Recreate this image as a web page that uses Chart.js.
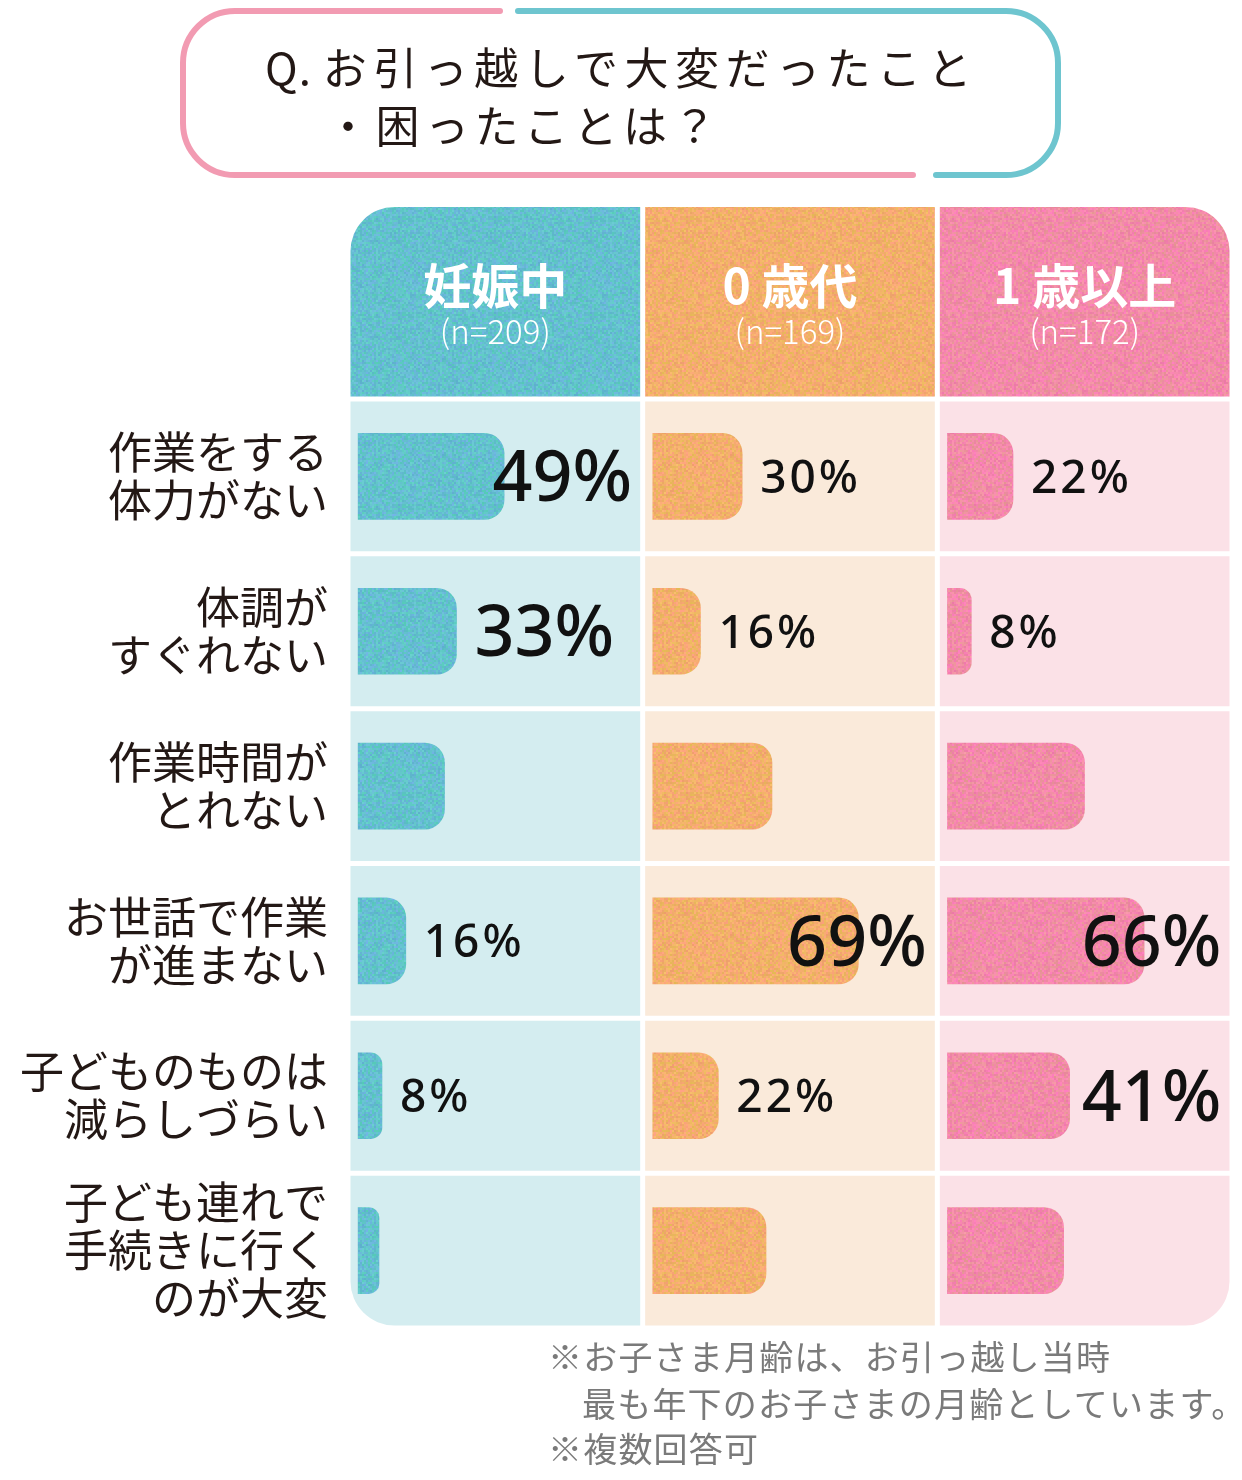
<!DOCTYPE html>
<html lang="ja">
<head>
<meta charset="utf-8">
<script src="https://cdn.jsdelivr.net/npm/chart.js@4.4.1/dist/chart.umd.min.js"></script>
<style>
  html, body { margin: 0; padding: 0; background: #fff; }
  body { width: 1242px; height: 1480px; position: relative; overflow: hidden; font-family: "Noto Sans CJK JP", "Noto Sans", sans-serif; }
  #c { position: absolute; left: 0; top: 0; }
  #frame { position: absolute; left: 0; top: 0; }
  .tline { position: absolute; font-size: 44px; line-height: 1; color: #231815; letter-spacing: 5.5px; white-space: nowrap; }
  .tline.first { letter-spacing: 6.5px; }
  .tline .q { letter-spacing: 1px; }
  .note { position: absolute; font-size: 34px; line-height: 1; color: #7a7a7a; letter-spacing: 1.2px; white-space: nowrap; }
</style>
</head>
<body>
<canvas id="c" width="1242" height="1480"></canvas>

<svg id="frame" width="1242" height="190">
  <path d="M500 11 L235 11 A52 52 0 0 0 183 63 L183 123 A52 52 0 0 0 235 175 L913 175"
        fill="none" stroke="#f29bb2" stroke-width="6" stroke-linecap="round"/>
  <path d="M518 11 L1006 11 A52 52 0 0 1 1058 63 L1058 123 A52 52 0 0 1 1006 175 L936 175"
        fill="none" stroke="#6ec5cf" stroke-width="6" stroke-linecap="round"/>
</svg>
<div class="tline first" style="left:265px; top:44px;"><span class="q">Q. </span>お引っ越しで大変だったこと</div>
<div class="tline" style="left:326px; top:102px;">・困ったことは？</div>

<div class="note" style="left:548px; top:1339px;">※お子さま月齢は、お引っ越し当時</div>
<div class="note" style="left:582px; top:1386px;">最も年下のお子さまの月齢としています。</div>
<div class="note" style="left:548px; top:1431px;">※複数回答可</div>

<script>
/* データ */
const groups = ["妊娠中", "0 歳代", "1 歳以上"];
const sampleSizes = ["(n=209)", "(n=169)", "(n=172)"];
const reasons = [
  ["作業をする", "体力がない"],
  ["体調が", "すぐれない"],
  ["作業時間が", "とれない"],
  ["お世話で作業", "が進まない"],
  ["子どものものは", "減らしづらい"],
  ["子ども連れで", "手続きに行く", "のが大変"],
];
const pregnant = [49, 33, 29, 16, 8, 7];
const age0 = [30, 16, 40, 69, 22, 38];
const age1 = [22, 8, 46, 66, 41, 39];
const labeledRows = [true, true, false, true, true, false];

/* 色 */
const baseRGB = [[99, 192, 206], [243, 174, 108], [242, 138, 168]];
const cellColors = ["#d4edf0", "#faeada", "#fbe1e7"];
const xIds = ["x0", "x1", "x2"];

// ざらざらした質感のパターン（決定的なハッシュで作る）
function hash(x, y) {
  const s = Math.sin(x * 12.9898 + y * 78.233) * 43758.5453;
  return s - Math.floor(s);
}
function grainPattern(ctx, rgb) {
  const size = 96;
  const tile = document.createElement("canvas");
  tile.width = tile.height = size;
  const g = tile.getContext("2d");
  const img = g.createImageData(size, size);
  for (let y = 0; y < size; y++) {
    for (let x = 0; x < size; x++) {
      const bx = x >> 1, by = y >> 1;
      const a = hash(bx, by) - 0.5;
      const b = hash(bx + 31.7, by + 17.3) - 0.5;
      const i = (y * size + x) * 4;
      img.data[i] = Math.max(0, Math.min(255, rgb[0] + a * 22 - b * 10));
      img.data[i + 1] = Math.max(0, Math.min(255, rgb[1] + b * 30 + a * 6));
      img.data[i + 2] = Math.max(0, Math.min(255, rgb[2] + (a - b) * 26));
      img.data[i + 3] = 255;
    }
  }
  g.putImageData(img, 0, 0);
  return ctx.createPattern(tile, "repeat");
}

const canvas = document.getElementById("c");
const patterns = baseRGB.map((rgb) => grainPattern(canvas.getContext("2d"), rgb));

/* ヘッダーとセル背景 */
const cellsPlugin = {
  id: "cells",
  beforeDraw(chart) {
    const { ctx, chartArea, scales } = chart;
    const n = reasons.length;
    const rowH = (chartArea.bottom - chartArea.top) / n;
    xIds.forEach((id, c) => {
      const s = scales[id];
      const l = s.left + 2.5, r = s.right - 2.5;
      ctx.save();
      ctx.fillStyle = patterns[c];
      ctx.beginPath();
      ctx.roundRect(l, 207, r - l, chartArea.top - 2.5 - 207, [c === 0 ? 44 : 0, c === 2 ? 44 : 0, 0, 0]);
      ctx.fill();

      ctx.fillStyle = cellColors[c];
      for (let i = 0; i < n; i++) {
        const t = chartArea.top + i * rowH + 2.5;
        const b = chartArea.top + (i + 1) * rowH - 2.5;
        const last = i === n - 1;
        ctx.beginPath();
        ctx.roundRect(l, t, r - l, b - t, [0, 0, last && c === 2 ? 44 : 0, last && c === 0 ? 44 : 0]);
        ctx.fill();
      }

      ctx.fillStyle = "#fff";
      ctx.textAlign = "center";
      ctx.textBaseline = "middle";
      ctx.font = "700 48px 'Noto Sans CJK JP'";
      ctx.fillText(groups[c], (l + r) / 2, 286);
      ctx.font = "300 33px 'Noto Sans CJK JP'";
      ctx.fillText(sampleSizes[c], (l + r) / 2, 331);
      ctx.restore();
    });
  },
};

/* 数値ラベル */
const valueLabels = {
  id: "valueLabels",
  afterDatasetsDraw(chart) {
    const { ctx } = chart;
    chart.data.datasets.forEach((ds, c) => {
      const meta = chart.getDatasetMeta(c);
      const s = chart.scales[ds.xAxisID];
      const colRight = s.right - 2.5 - 8;
      meta.data.forEach((bar, i) => {
        if (!labeledRows[i]) return;
        const v = ds.data[i];
        const big = v >= 33;
        ctx.save();
        ctx.font = big ? "500 70px 'Noto Sans'" : "500 46px 'Noto Sans'";
        ctx.letterSpacing = big ? "0px" : "3px";
        ctx.fillStyle = "#111";
        ctx.textAlign = "left";
        ctx.textBaseline = "alphabetic";
        const text = v + "%";
        const w = ctx.measureText(text).width;
        let x = bar.x + 18;
        if (x + w > colRight) x = colRight - w;
        ctx.fillText(text, x, bar.y + (big ? 25 : 16.5));
        ctx.restore();
      });
    });
  },
};

const xAxis = {
  type: "linear",
  display: false,
  position: "bottom",
  stack: "cols",
  stackWeight: 1,
  min: -3.4,
  max: 95.5,
};

const series = [pregnant, age0, age1];

new Chart(canvas, {
  type: "bar",
  data: {
    labels: reasons,
    datasets: series.map((values, c) => ({
      label: groups[c],
      data: values,
      xAxisID: xIds[c],
      backgroundColor: patterns[c],
      borderWidth: 0,
      borderSkipped: false,
      borderRadius: { topLeft: 0, bottomLeft: 0, topRight: 20, bottomRight: 20 },
      barThickness: 86,
      grouped: false,
    })),
  },
  options: {
    indexAxis: "y",
    responsive: false,
    animation: false,
    layout: { padding: { top: 399, bottom: 152, left: 0, right: 10 } },
    plugins: {
      legend: { display: false },
      tooltip: { enabled: false },
    },
    scales: {
      x0: { ...xAxis },
      x1: { ...xAxis },
      x2: { ...xAxis },
      y: {
        grid: { display: false, drawTicks: false },
        border: { display: false },
        ticks: {
          color: "#231815",
          padding: 20,
          autoSkip: false,
          font: { family: "'Noto Sans CJK JP'", size: 44, lineHeight: 1.09 },
        },
        afterFit: (s) => { s.width = 348; },
      },
    },
  },
  plugins: [cellsPlugin, valueLabels],
});
</script>
</body>
</html>
